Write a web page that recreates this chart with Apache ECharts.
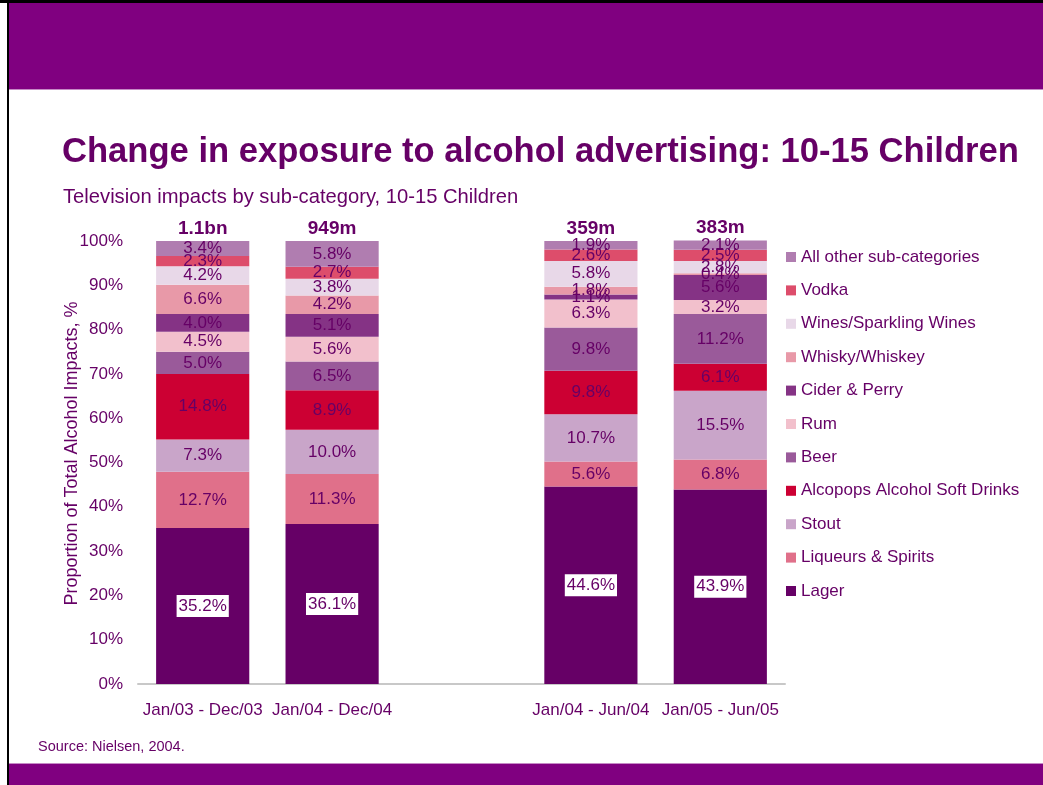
<!DOCTYPE html>
<html>
<head>
<meta charset="utf-8">
<title>Change in exposure to alcohol advertising: 10-15 Children</title>
<script src="https://cdn.jsdelivr.net/npm/echarts@6/dist/echarts.min.js"></script>
<style>
  html, body { margin: 0; padding: 0; background: #ffffff; }
  #chart { width: 1043px; height: 785px; }
</style>
</head>
<body>
<div id="chart"></div>
<script>
// Periods shown; an empty slot separates the full-year and half-year pairs
const periods = ['Jan/03 - Dec/03', 'Jan/04 - Dec/04', 'Jan/04 - Jun/04', 'Jan/05 - Jun/05'];
const totals = ['1.1bn', '949m', '359m', '383m'];

// Share of total alcohol impacts (%), per sub-category, per period (bottom to top of the stack)
const lager      = [35.2, 36.1, 44.6, 43.9];
const liqueurs   = [12.7, 11.3, 5.6, 6.8];
const stout      = [7.3, 10.0, 10.7, 15.5];
const alcopops   = [14.8, 8.9, 9.8, 6.1];
const beer       = [5.0, 6.5, 9.8, 11.2];
const rum        = [4.5, 5.6, 6.3, 3.2];
const cider      = [4.0, 5.1, 1.1, 5.6];
const whisky     = [6.6, 4.2, 1.8, 0.4];
const wines      = [4.2, 3.8, 5.8, 2.8];
const vodka      = [2.3, 2.7, 2.6, 2.5];
const allOther   = [3.4, 5.8, 1.9, 2.1];

const seriesDefs = [
  { name: 'Lager', data: lager, color: '#660066', boxed: true },
  { name: 'Liqueurs & Spirits', data: liqueurs, color: '#e0708a' },
  { name: 'Stout', data: stout, color: '#c9a5c9' },
  { name: 'Alcopops Alcohol Soft Drinks', data: alcopops, color: '#cc0033' },
  { name: 'Beer', data: beer, color: '#9a5a9a' },
  { name: 'Rum', data: rum, color: '#f2c0cc' },
  { name: 'Cider & Perry', data: cider, color: '#853385' },
  { name: 'Whisky/Whiskey', data: whisky, color: '#e899a8' },
  { name: 'Wines/Sparkling Wines', data: wines, color: '#e8d8e8' },
  { name: 'Vodka', data: vodka, color: '#dd4d6b' },
  { name: 'All other sub-categories', data: allOther, color: '#b07db0' }
];

const TEXT = '#660066';
const FONT = '"Liberation Sans", Arial, sans-serif';

// Insert the empty gap slot between the two pairs
function withGap(arr) { return [arr[0], arr[1], '-', arr[2], arr[3]]; }
const categories = withGap(periods).map(v => v === '-' ? '' : v);

const series = seriesDefs.map(d => ({
  name: d.name,
  type: 'bar',
  stack: 'share',
  barWidth: '72%',
  clip: false,
  data: withGap(d.data),
  itemStyle: { color: d.color },
  label: {
    show: true,
    position: 'inside',
    color: TEXT,
    fontFamily: FONT,
    fontSize: 17,
    formatter: p => p.value.toFixed(1) + '%',
    backgroundColor: d.boxed ? '#ffffff' : 'transparent',
    padding: d.boxed ? [3, 2, 2, 2] : 0
  },
  emphasis: { disabled: true }
}));

// Zero-height cap carrying the total impacts above each bar
series.push({
  name: 'Total',
  type: 'bar',
  stack: 'share',
  barWidth: '72%',
  clip: false,
  data: withGap([0, 0, 0, 0]),
  itemStyle: { color: 'transparent' },
  label: {
    show: true,
    position: 'top',
    distance: 3,
    color: TEXT,
    fontFamily: FONT,
    fontSize: 19,
    fontWeight: 'bold',
    formatter: p => {
      const idx = p.dataIndex < 2 ? p.dataIndex : p.dataIndex - 1;
      return totals[idx];
    }
  },
  emphasis: { disabled: true }
});

const chart = echarts.init(document.getElementById('chart'), null, { renderer: 'canvas' });

chart.setOption({
  backgroundColor: '#ffffff',
  animation: false,
  textStyle: { fontFamily: FONT },
  graphic: [
    // header band
    { type: 'rect', shape: { x: 9, y: 3, width: 1034, height: 86 }, style: { fill: '#800080' } },
    { type: 'rect', shape: { x: 9, y: 89, width: 1034, height: 1 }, style: { fill: '#c68ac6' } },
    // frame lines
    { type: 'rect', shape: { x: 0, y: 0, width: 1043, height: 3 }, style: { fill: '#000000' } },
    { type: 'rect', shape: { x: 7, y: 0, width: 2, height: 785 }, style: { fill: '#000000' } },
    // footer band
    { type: 'rect', shape: { x: 9, y: 763, width: 1034, height: 1 }, style: { fill: '#c68ac6' } },
    { type: 'rect', shape: { x: 9, y: 764, width: 1034, height: 21 }, style: { fill: '#800080' } },
    // title and subtitle
    {
      type: 'text', left: 62, top: 135,
      style: {
        text: 'Change in exposure to alcohol advertising: 10-15 Children',
        fill: TEXT, font: 'bold 34.6px "Liberation Sans", Arial, sans-serif'
      }
    },
    {
      type: 'text', left: 63, top: 187,
      style: {
        text: 'Television impacts by sub-category, 10-15 Children',
        fill: TEXT, font: '20.2px "Liberation Sans", Arial, sans-serif'
      }
    },
    {
      type: 'text', left: 38, top: 739,
      style: {
        text: 'Source: Nielsen, 2004.',
        fill: TEXT, font: '14.5px "Liberation Sans", Arial, sans-serif'
      }
    }
  ],
  legend: {
    orient: 'vertical',
    left: 781,
    top: 242,
    itemWidth: 10,
    itemHeight: 10,
    itemGap: 13.4,
    icon: 'rect',
    selectedMode: false,
    data: seriesDefs.map(d => d.name).reverse(),
    textStyle: { color: TEXT, fontSize: 17, fontFamily: FONT, lineHeight: 20 }
  },
  grid: { left: 138, right: 258, top: 241, bottom: 101, containLabel: false },
  xAxis: {
    type: 'category',
    data: categories,
    axisTick: { show: false },
    axisLine: { show: true, lineStyle: { color: '#c8c8c8', width: 2 } },
    axisLabel: { color: TEXT, fontSize: 17, fontFamily: FONT, margin: 18, interval: 0 }
  },
  yAxis: {
    type: 'value',
    min: 0,
    max: 100,
    interval: 10,
    name: 'Proportion of Total Alcohol Impacts, %',
    nameLocation: 'middle',
    nameGap: 57,
    nameMoveOverlap: false,
    nameTextStyle: { color: TEXT, fontSize: 18, fontFamily: FONT, padding: [0, 0, 0, 18] },
    axisLine: { show: false },
    axisTick: { show: false },
    splitLine: { show: false },
    axisLabel: { color: TEXT, fontSize: 17, fontFamily: FONT, margin: 15, formatter: '{value}%' }
  },
  series: series
});
</script>
</body>
</html>
